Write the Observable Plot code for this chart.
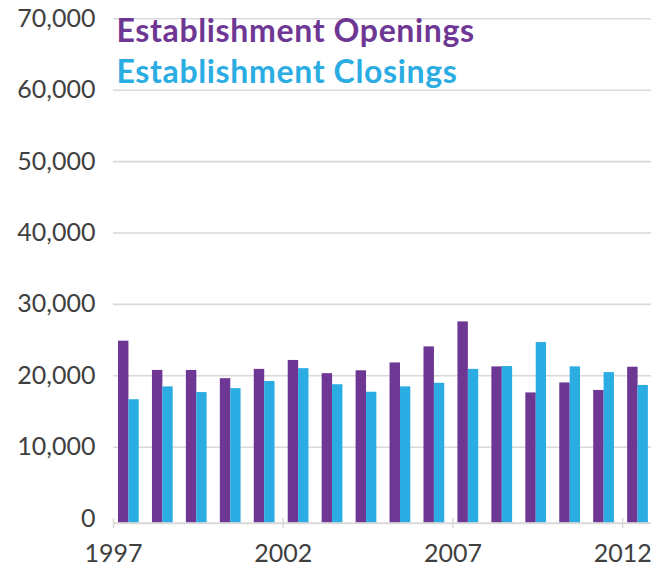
<!DOCTYPE html>
<html>
<head>
<meta charset="utf-8">
<script src="https://cdn.jsdelivr.net/npm/d3@7"></script>
<script src="https://cdn.jsdelivr.net/npm/@observablehq/plot@0.6"></script>
<style>
  html, body { margin: 0; padding: 0; background: #fff; }
  .legend-text text { letter-spacing: 0.02em; }
</style>
</head>
<body>
<div id="chart"></div>
<script>
const years = [1997, 1998, 1999, 2000, 2001, 2002, 2003, 2004, 2005, 2006, 2007, 2008, 2009, 2010, 2011, 2012];
const openings = [24850, 20750, 20750, 19600, 20900, 22150, 20300, 20700, 21800, 24050, 27550, 21250, 17600, 19000, 17950, 21200];
const closings = [16650, 18450, 17650, 18200, 19200, 21000, 18750, 17700, 18450, 18950, 20900, 21300, 24650, 21250, 20450, 18650];
const seriesNames = ["Establishment Openings", "Establishment Closings"];
const xTicks = [1997, 2002, 2007, 2012];
const yTicks = [0, 10000, 20000, 30000, 40000, 50000, 60000, 70000];

const purple = "#6e3794";
const blue = "#2bade3";
const gray = "#d9d9d9";

const data = years.map((year, i) => ({year, openings: openings[i], closings: closings[i]}));

const chart = Plot.plot({
  width: 651,
  height: 567,
  marginLeft: 113,
  marginRight: 0,
  marginTop: 18.3,
  marginBottom: 48.9,
  style: {fontFamily: "Lato, sans-serif", fontSize: "25px", color: "#404040", background: "#fff"},
  x: {domain: [1997, 2012.85]},
  y: {domain: [0, 70000]},
  marks: [
    Plot.gridY(yTicks.filter(t => t > 0), {stroke: gray, strokeOpacity: 1, strokeWidth: 1.6}),
    Plot.rectY(data, {x: "year", y: "openings", interval: 1, fill: purple, insetLeft: 5, insetRight: 18.5, insetBottom: -4.6}),
    Plot.rectY(data, {x: "year", y: "closings", interval: 1, fill: blue, insetLeft: 15.4, insetRight: 8.2, insetBottom: -4.6}),
    Plot.ruleY([0], {dy: 4.6, stroke: gray, strokeWidth: 2}),
    Plot.axisY({ticks: yTicks, tickSize: 0, tickPadding: 18, tickFormat: d3.format(","), label: null, fill: "#404040"}),
    Plot.axisX({ticks: xTicks, tickSize: 10, tickPadding: 16, tickFormat: "d", label: null, stroke: gray, strokeWidth: 1.5, fill: "#404040"}),
    Plot.text([seriesNames[0]], {text: d => d, frameAnchor: "top-left", textAnchor: "start", lineAnchor: "top", dx: 3, dy: 0, fontSize: 32, fontWeight: "bold", fill: purple, className: "legend-text"}),
    Plot.text([seriesNames[1]], {text: d => d, frameAnchor: "top-left", textAnchor: "start", lineAnchor: "top", dx: 3, dy: 41, fontSize: 32, fontWeight: "bold", fill: blue, className: "legend-text"})
  ]
});
document.getElementById("chart").appendChild(chart);
</script>
</body>
</html>
